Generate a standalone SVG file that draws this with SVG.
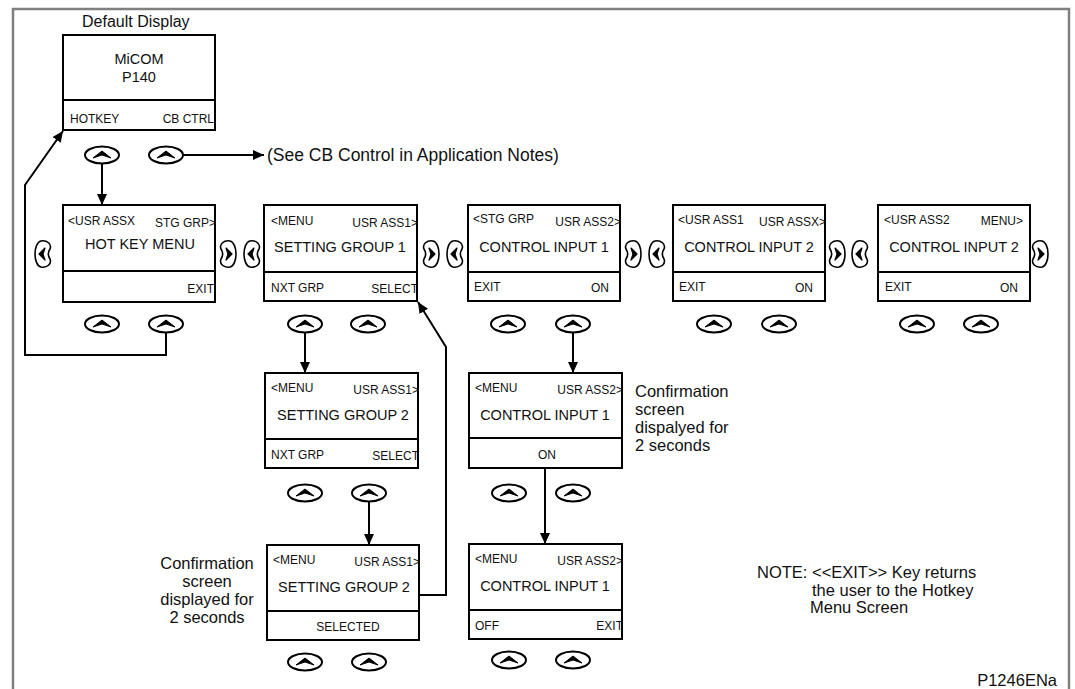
<svg xmlns="http://www.w3.org/2000/svg" width="1075" height="689" viewBox="0 0 1075 689">
<style>
text{font-family:"Liberation Sans",Arial,sans-serif;fill:#111}
.s{font-size:12px}
.t{font-size:14.5px;text-anchor:middle}
.a{font-size:16.5px}
.r{text-anchor:end}
.m{text-anchor:middle}
.box{fill:#fff;stroke:#000;stroke-width:2}
.div{stroke:#000;stroke-width:2}
.ln{fill:none;stroke:#000;stroke-width:2}
.arr{fill:none;stroke:#000;stroke-width:2;marker-end:url(#ah)}
</style>
<defs>
<marker id="ah" markerUnits="userSpaceOnUse" markerWidth="12" markerHeight="10" refX="11" refY="5" orient="auto">
<path d="M0,0 L11,5 L0,10 Z" fill="#000"/>
</marker>
<g id="up">
<ellipse cx="0" cy="0" rx="17" ry="8.5" fill="#fff" stroke="#000" stroke-width="2"/>
<path d="M-9,3 L0,-4 L9,3 L0,0 Z" fill="#000" stroke="#000" stroke-width="1" stroke-linejoin="round"/>
</g>
<g id="lb">
<path d="M-2,-13 C4,-14 9,-10 7,-5 C5,-2 5,2 7,5 C9,10 4,14 -2,13 C-6,12 -8,6 -8,0 C-8,-6 -6,-12 -2,-13 Z" fill="#fff" stroke="#000" stroke-width="1.6"/>
<path d="M2,-6 L-4,0 L2,6 L0,0 Z" fill="#000" stroke="#000" stroke-width="1.2" stroke-linejoin="round"/>
</g>
<g id="rb"><use href="#lb" transform="scale(-1,1)"/></g>
</defs>
<rect width="1075" height="689" fill="#fff"/>
<path d="M13,689 L13,9 L1069,9 L1069,689" fill="none" stroke="#808080" stroke-width="2.5"/>

<g id="connectors">
<path class="arr" d="M183,155 L264,155"/>
<path class="arr" d="M102,163 L102,205"/>
<path class="arr" d="M166,333 L166,355 L25,355 L25,185 L63,131"/>
<path class="arr" d="M305,333 L305,373"/>
<path class="arr" d="M573,333 L573,373"/>
<path class="arr" d="M369,502 L369,545"/>
<path class="arr" d="M545,468 L545,544"/>
<path class="arr" d="M419,595 L446,595 L446,347 L418,302"/>
</g>

<text class="a" x="82" y="27" style="font-size:16px">Default Display</text>
<text class="a" x="267" y="161" style="font-size:17.5px">(See CB Control in Application Notes)</text>

<g id="default-display" transform="translate(63,35)">
<rect class="box" width="152" height="95"/>
<line class="div" x1="0" y1="65" x2="152" y2="65"/>
<text class="t" x="76" y="29" style="font-size:14.5px">MiCOM</text>
<text class="t" x="76" y="47" style="font-size:14.5px">P140</text>
<text class="s" x="7" y="88">HOTKEY</text>
<text class="s r" x="151" y="88">CB CTRL</text>
</g>
<use href="#up" x="102" y="155"/>
<use href="#up" x="166" y="155"/>

<g id="hotkey-menu" transform="translate(63,205)">
<rect class="box" width="152" height="97"/>
<line class="div" x1="0" y1="66" x2="152" y2="66"/>
<text class="s" x="5" y="20">&lt;USR ASSX</text>
<text class="s r" x="153" y="22">STG GRP&gt;</text>
<text class="t" x="77" y="44">HOT KEY MENU</text>
<text class="s r" x="151" y="88">EXIT</text>
</g>
<use href="#lb" x="43" y="254"/>
<use href="#rb" x="228" y="254"/>
<use href="#up" x="102" y="324"/>
<use href="#up" x="166" y="324"/>

<g id="setting-group-1" transform="translate(264,205)">
<rect class="box" width="153" height="96"/>
<line class="div" x1="0" y1="67" x2="153" y2="67"/>
<text class="s" x="7" y="20">&lt;MENU</text>
<text class="s r" x="154" y="22">USR ASS1&gt;</text>
<text class="t" x="76" y="47">SETTING GROUP 1</text>
<text class="s" x="7" y="87">NXT GRP</text>
<text class="s r" x="154" y="88">SELECT</text>
</g>
<use href="#lb" x="252" y="254"/>
<use href="#rb" x="431" y="254"/>
<use href="#up" x="305" y="324"/>
<use href="#up" x="368" y="324"/>

<g id="control-input-1" transform="translate(468,205)">
<rect class="box" width="152" height="96"/>
<line class="div" x1="0" y1="67" x2="152" y2="67"/>
<text class="s" x="5" y="18">&lt;STG GRP</text>
<text class="s r" x="153" y="21">USR ASS2&gt;</text>
<text class="t" x="76" y="47">CONTROL INPUT 1</text>
<text class="s" x="6" y="86">EXIT</text>
<text class="s r" x="141" y="87">ON</text>
</g>
<use href="#lb" x="455" y="254"/>
<use href="#rb" x="633" y="254"/>
<use href="#up" x="508" y="324"/>
<use href="#up" x="573" y="324"/>

<g id="control-input-2a" transform="translate(673,205)">
<rect class="box" width="152" height="96"/>
<line class="div" x1="0" y1="67" x2="152" y2="67"/>
<text class="s" x="5" y="19">&lt;USR ASS1</text>
<text class="s r" x="153" y="21">USR ASSX&gt;</text>
<text class="t" x="76" y="47">CONTROL INPUT 2</text>
<text class="s" x="6" y="86">EXIT</text>
<text class="s r" x="140" y="87">ON</text>
</g>
<use href="#lb" x="657" y="254"/>
<use href="#rb" x="837" y="254"/>
<use href="#up" x="714" y="324"/>
<use href="#up" x="779" y="324"/>

<g id="control-input-2b" transform="translate(878,205)">
<rect class="box" width="152" height="96"/>
<line class="div" x1="0" y1="67" x2="152" y2="67"/>
<text class="s" x="6" y="19">&lt;USR ASS2</text>
<text class="s r" x="145" y="20">MENU&gt;</text>
<text class="t" x="76" y="47">CONTROL INPUT 2</text>
<text class="s" x="7" y="86">EXIT</text>
<text class="s r" x="140" y="87">ON</text>
</g>
<use href="#lb" x="860" y="254"/>
<use href="#rb" x="1040" y="254"/>
<use href="#up" x="917" y="324"/>
<use href="#up" x="981" y="324"/>

<g id="setting-group-2" transform="translate(265,373)">
<rect class="box" width="153" height="95"/>
<line class="div" x1="0" y1="66" x2="153" y2="66"/>
<text class="s" x="6" y="19">&lt;MENU</text>
<text class="s r" x="154" y="21">USR ASS1&gt;</text>
<text class="t" x="78" y="47">SETTING GROUP 2</text>
<text class="s" x="6" y="86">NXT GRP</text>
<text class="s r" x="154" y="87">SELECT</text>
</g>
<use href="#up" x="305" y="493"/>
<use href="#up" x="369" y="493"/>

<g id="setting-group-2-confirm" transform="translate(267,545)">
<rect class="box" width="152" height="95"/>
<line class="div" x1="0" y1="66" x2="152" y2="66"/>
<text class="s" x="6" y="19">&lt;MENU</text>
<text class="s r" x="153" y="21">USR ASS1&gt;</text>
<text class="t" x="77" y="47">SETTING GROUP 2</text>
<text class="s m" x="81" y="86">SELECTED</text>
</g>
<use href="#up" x="305" y="662"/>
<use href="#up" x="369" y="662"/>

<g id="control-input-1-confirm" transform="translate(469,373)">
<rect class="box" width="153" height="95"/>
<line class="div" x1="0" y1="65" x2="153" y2="65"/>
<text class="s" x="6" y="19">&lt;MENU</text>
<text class="s r" x="154" y="21">USR ASS2&gt;</text>
<text class="t" x="76" y="47">CONTROL INPUT 1</text>
<text class="s m" x="78" y="86">ON</text>
</g>
<use href="#up" x="509" y="493"/>
<use href="#up" x="573" y="493"/>

<g id="control-input-1-off" transform="translate(469,544)">
<rect class="box" width="153" height="95"/>
<line class="div" x1="0" y1="66" x2="153" y2="66"/>
<text class="s" x="6" y="19">&lt;MENU</text>
<text class="s r" x="154" y="21">USR ASS2&gt;</text>
<text class="t" x="76" y="47">CONTROL INPUT 1</text>
<text class="s" x="6" y="86">OFF</text>
<text class="s r" x="154" y="86">EXIT</text>
</g>
<use href="#up" x="509" y="660"/>
<use href="#up" x="573" y="660"/>

<g id="notes">
<text class="a m" x="207" y="569">Confirmation</text>
<text class="a m" x="207" y="587">screen</text>
<text class="a m" x="207" y="605">displayed for</text>
<text class="a m" x="207" y="623">2 seconds</text>
<text class="a" x="635" y="397">Confirmation</text>
<text class="a" x="635" y="415">screen</text>
<text class="a" x="635" y="433">dispalyed for</text>
<text class="a" x="635" y="451">2 seconds</text>
<text class="a" x="757" y="578">NOTE: &lt;&lt;EXIT&gt;&gt; Key returns</text>
<text class="a" x="812" y="596">the user to the Hotkey</text>
<text class="a" x="810" y="613">Menu Screen</text>
<text class="a r" x="1057" y="686">P1246ENa</text>
</g>
</svg>
